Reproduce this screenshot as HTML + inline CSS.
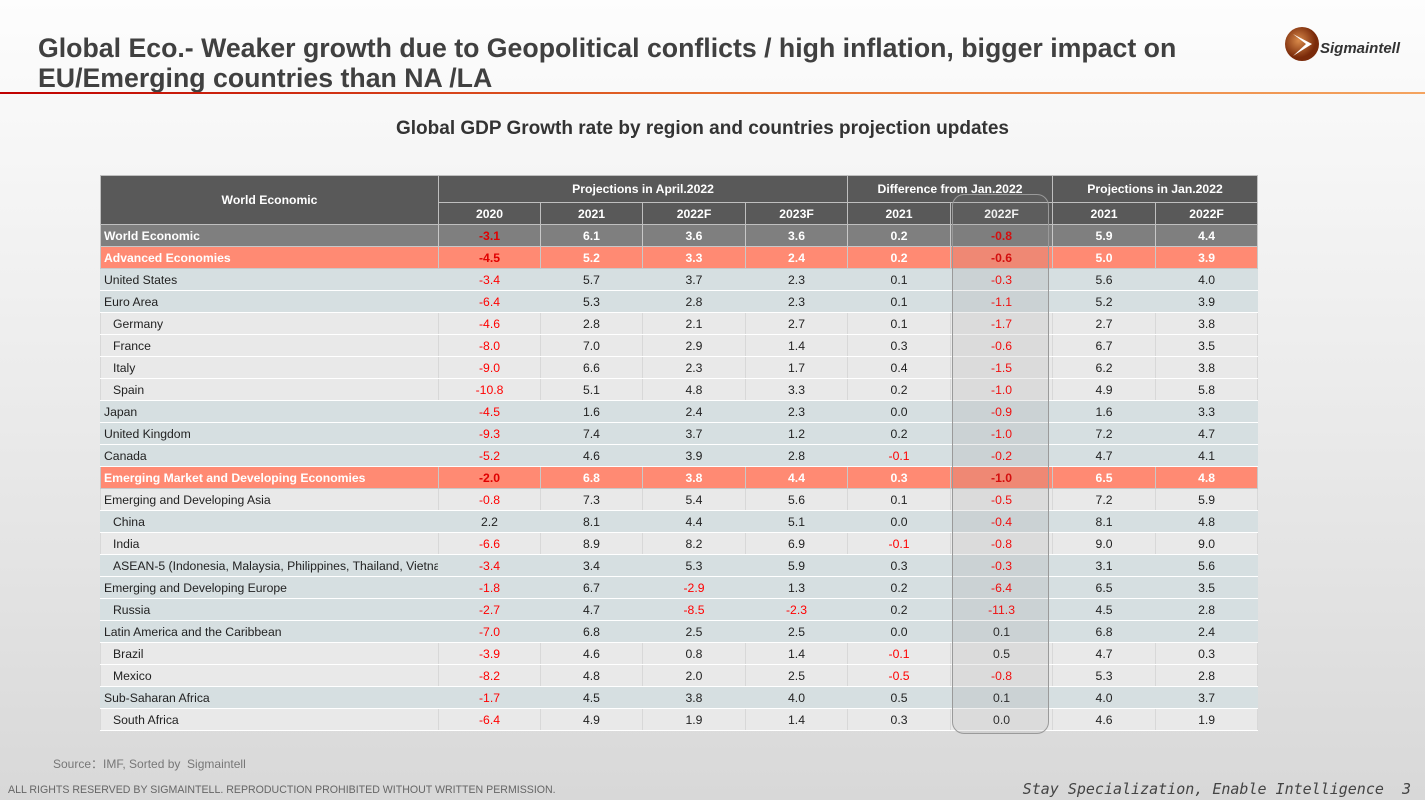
<!DOCTYPE html>
<html><head><meta charset="utf-8"><style>
body{margin:0;width:1425px;height:800px;overflow:hidden;font-family:"Liberation Sans",Arial,sans-serif;background:linear-gradient(#fdfdfd 0%,#f2f2f2 30%,#e2e2e2 75%,#d8d8d8 100%);position:relative}
.t{position:absolute;left:38px;top:33px;font-size:26.7px;font-weight:bold;color:#404040;line-height:30px}
.line{position:absolute;left:0;top:92px;width:1425px;height:2px;background:linear-gradient(90deg,#c00000,#e46c2a 50%,#f4a460)}
.sub{position:absolute;left:0;width:1405px;top:118px;text-align:center;font-size:19px;font-weight:bold;color:#333}
table{position:absolute;left:100px;top:175px;width:1157px;border-collapse:collapse;table-layout:fixed;font-size:12.2px}
td{padding:0;text-align:center;border:1px solid #c8c8c8;height:21px;color:#222;overflow:hidden;white-space:nowrap}
td.l{text-align:left;padding-left:3px}
td.i{text-align:left;padding-left:12px}
tr.h td{background:#595959;color:#fff;font-weight:bold;border-color:#bfbfbf}
tr.w td{background:#7f7f7f;color:#fff;font-weight:bold}
tr.o td{background:#ff8a73;color:#fff;font-weight:bold}
tr.b td{background:#d6dfe1;border-color:#d6dfe1 #d6dfe1 #fff #d6dfe1}
tr.g td{background:#e9e9e9;border-color:#e0e0e0 #d8d8d8 #fff #d8d8d8}
td.r{color:#f00 !important}
tr.w td.r,tr.o td.r{color:#e00000!important}
.ov{position:absolute;left:952px;top:194px;width:95px;height:538px;border:1px solid #9a9a9a;border-radius:12px;background:rgba(120,120,120,.12)}
.src{position:absolute;left:53px;top:755px;font-size:12px;color:#777}
.ft{position:absolute;left:8px;top:784px;font-size:10.6px;color:#666}
.sl{position:absolute;right:14px;top:780px;font-size:15px;font-style:italic;color:#444;font-family:"DejaVu Sans Mono",monospace}
</style></head><body>
<div class="t">Global Eco.- Weaker growth due to Geopolitical conflicts / high inflation, bigger impact on<br>EU/Emerging countries than NA /LA</div>
<div class="line"></div>
<svg style="position:absolute;left:1284px;top:26px" width="140" height="40"><defs><radialGradient id="g" cx=".4" cy=".4"><stop offset="0" stop-color="#d98a4a"/><stop offset="1" stop-color="#7a2a0a"/></radialGradient></defs><circle cx="18" cy="18" r="17" fill="url(#g)"/><path d="M9 8 L28 18 L9 30 L22 18 Z" fill="#fff"/><text x="36" y="27" font-family="Liberation Sans" font-weight="bold" font-style="italic" font-size="15" fill="#333">Sigmaintell</text></svg>
<div class="sub">Global GDP Growth rate by region and countries projection updates</div>
<table>
<colgroup><col style="width:338px"><col style="width:102px"><col style="width:102px"><col style="width:103px"><col style="width:102px"><col style="width:103px"><col style="width:102px"><col style="width:103px"><col style="width:102px"></colgroup>
<tr class="h"><td rowspan="2" style="height:46px">World Economic</td><td colspan="4" style="height:26px">Projections in April.2022</td><td colspan="2">Difference from Jan.2022</td><td colspan="2">Projections in Jan.2022</td></tr>
<tr class="h"><td style="height:18px">2020</td><td>2021</td><td>2022F</td><td>2023F</td><td>2021</td><td>2022F</td><td>2021</td><td>2022F</td></tr>
<tr class="w"><td class="l">World Economic</td><td class="r">-3.1</td><td>6.1</td><td>3.6</td><td>3.6</td><td>0.2</td><td class="r">-0.8</td><td>5.9</td><td>4.4</td></tr>
<tr class="o"><td class="l">Advanced Economies</td><td class="r">-4.5</td><td>5.2</td><td>3.3</td><td>2.4</td><td>0.2</td><td class="r">-0.6</td><td>5.0</td><td>3.9</td></tr>
<tr class="b"><td class="l">United States</td><td class="r">-3.4</td><td>5.7</td><td>3.7</td><td>2.3</td><td>0.1</td><td class="r">-0.3</td><td>5.6</td><td>4.0</td></tr>
<tr class="b"><td class="l">Euro Area</td><td class="r">-6.4</td><td>5.3</td><td>2.8</td><td>2.3</td><td>0.1</td><td class="r">-1.1</td><td>5.2</td><td>3.9</td></tr>
<tr class="g"><td class="i">Germany</td><td class="r">-4.6</td><td>2.8</td><td>2.1</td><td>2.7</td><td>0.1</td><td class="r">-1.7</td><td>2.7</td><td>3.8</td></tr>
<tr class="g"><td class="i">France</td><td class="r">-8.0</td><td>7.0</td><td>2.9</td><td>1.4</td><td>0.3</td><td class="r">-0.6</td><td>6.7</td><td>3.5</td></tr>
<tr class="g"><td class="i">Italy</td><td class="r">-9.0</td><td>6.6</td><td>2.3</td><td>1.7</td><td>0.4</td><td class="r">-1.5</td><td>6.2</td><td>3.8</td></tr>
<tr class="g"><td class="i">Spain</td><td class="r">-10.8</td><td>5.1</td><td>4.8</td><td>3.3</td><td>0.2</td><td class="r">-1.0</td><td>4.9</td><td>5.8</td></tr>
<tr class="b"><td class="l">Japan</td><td class="r">-4.5</td><td>1.6</td><td>2.4</td><td>2.3</td><td>0.0</td><td class="r">-0.9</td><td>1.6</td><td>3.3</td></tr>
<tr class="b"><td class="l">United Kingdom</td><td class="r">-9.3</td><td>7.4</td><td>3.7</td><td>1.2</td><td>0.2</td><td class="r">-1.0</td><td>7.2</td><td>4.7</td></tr>
<tr class="b"><td class="l">Canada</td><td class="r">-5.2</td><td>4.6</td><td>3.9</td><td>2.8</td><td class="r">-0.1</td><td class="r">-0.2</td><td>4.7</td><td>4.1</td></tr>
<tr class="o"><td class="l">Emerging Market and Developing Economies</td><td class="r">-2.0</td><td>6.8</td><td>3.8</td><td>4.4</td><td>0.3</td><td class="r">-1.0</td><td>6.5</td><td>4.8</td></tr>
<tr class="g"><td class="l">Emerging and Developing Asia</td><td class="r">-0.8</td><td>7.3</td><td>5.4</td><td>5.6</td><td>0.1</td><td class="r">-0.5</td><td>7.2</td><td>5.9</td></tr>
<tr class="b"><td class="i">China</td><td>2.2</td><td>8.1</td><td>4.4</td><td>5.1</td><td>0.0</td><td class="r">-0.4</td><td>8.1</td><td>4.8</td></tr>
<tr class="g"><td class="i">India</td><td class="r">-6.6</td><td>8.9</td><td>8.2</td><td>6.9</td><td class="r">-0.1</td><td class="r">-0.8</td><td>9.0</td><td>9.0</td></tr>
<tr class="b"><td class="i">ASEAN-5 (Indonesia, Malaysia, Philippines, Thailand, Vietnam)</td><td class="r">-3.4</td><td>3.4</td><td>5.3</td><td>5.9</td><td>0.3</td><td class="r">-0.3</td><td>3.1</td><td>5.6</td></tr>
<tr class="b"><td class="l">Emerging and Developing Europe</td><td class="r">-1.8</td><td>6.7</td><td class="r">-2.9</td><td>1.3</td><td>0.2</td><td class="r">-6.4</td><td>6.5</td><td>3.5</td></tr>
<tr class="b"><td class="i">Russia</td><td class="r">-2.7</td><td>4.7</td><td class="r">-8.5</td><td class="r">-2.3</td><td>0.2</td><td class="r">-11.3</td><td>4.5</td><td>2.8</td></tr>
<tr class="b"><td class="l">Latin America and the Caribbean</td><td class="r">-7.0</td><td>6.8</td><td>2.5</td><td>2.5</td><td>0.0</td><td>0.1</td><td>6.8</td><td>2.4</td></tr>
<tr class="g"><td class="i">Brazil</td><td class="r">-3.9</td><td>4.6</td><td>0.8</td><td>1.4</td><td class="r">-0.1</td><td>0.5</td><td>4.7</td><td>0.3</td></tr>
<tr class="g"><td class="i">Mexico</td><td class="r">-8.2</td><td>4.8</td><td>2.0</td><td>2.5</td><td class="r">-0.5</td><td class="r">-0.8</td><td>5.3</td><td>2.8</td></tr>
<tr class="b"><td class="l">Sub-Saharan Africa</td><td class="r">-1.7</td><td>4.5</td><td>3.8</td><td>4.0</td><td>0.5</td><td>0.1</td><td>4.0</td><td>3.7</td></tr>
<tr class="g"><td class="i">South Africa</td><td class="r">-6.4</td><td>4.9</td><td>1.9</td><td>1.4</td><td>0.3</td><td>0.0</td><td>4.6</td><td>1.9</td></tr>
</table>
<div class="ov"></div>
<div class="src">Source：IMF, Sorted by &nbsp;Sigmaintell</div>
<div class="ft">ALL RIGHTS RESERVED BY SIGMAINTELL. REPRODUCTION PROHIBITED WITHOUT WRITTEN PERMISSION.</div>
<div class="sl">Stay Specialization, Enable Intelligence &nbsp;3</div>
</body></html>
